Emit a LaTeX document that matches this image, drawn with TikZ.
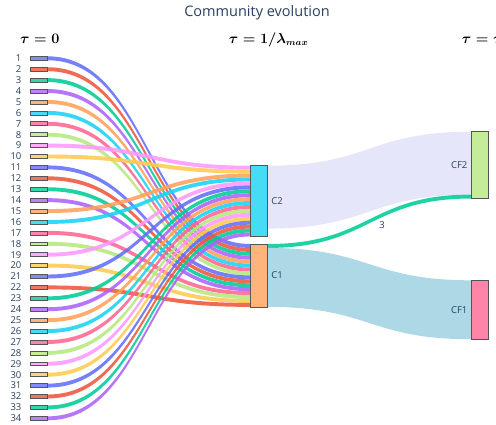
\documentclass[tikz,border=0pt]{standalone}
\usepackage[no-math]{fontspec}
\newfontfamily\osans{Open Sans}
\usetikzlibrary{calc}
\definecolor{pal1}{HTML}{636EFA}
\definecolor{pal2}{HTML}{EF553B}
\definecolor{pal3}{HTML}{00CC96}
\definecolor{pal4}{HTML}{AB63FA}
\definecolor{pal5}{HTML}{FFA15A}
\definecolor{pal6}{HTML}{19D3F3}
\definecolor{pal7}{HTML}{FF6692}
\definecolor{pal8}{HTML}{B6E880}
\definecolor{pal9}{HTML}{FF97FF}
\definecolor{pal10}{HTML}{FECB52}
\definecolor{txt}{HTML}{2A3F5F}
\definecolor{edgec}{HTML}{555555}
\definecolor{lav}{HTML}{E6E6FA}
\definecolor{lblue}{HTML}{ADD8E6}
\pgfdeclarelayer{links}
\pgfsetlayers{links,main}
\newcommand\band[3]{%
  \path ($(#2.east)!0.5!(#3.west)$) coordinate (m);
  \fill[#1] (#2.north east) .. controls (m |- #2.north east) and (m |- #3.north west) .. (#3.north west)
    -- (#3.south west) .. controls (m |- #3.south west) and (m |- #2.south east) .. (#2.south east) -- cycle;}
\begin{document}
\begin{tikzpicture}[x=1pt,y=-1pt,
  box/.style={draw=edgec, line width=0.6pt, inner sep=0pt, outer sep=0pt, minimum width=17.5pt},
  slot/.style={inner sep=0pt, outer sep=0pt, minimum width=0pt, minimum height=#1*3.93pt},
  numlab/.style={font=\osans\fontsize{9.5}{11}\selectfont, text=txt, inner sep=0pt},
  clab/.style={font=\osans\fontsize{9.5}{11}\selectfont, text=txt, inner sep=0pt},
  hdr/.style={font=\fontsize{13.5}{16}\selectfont\boldmath, inner sep=0pt},
  linkc/.style={fill=#1, fill opacity=0.88}]
\useasboundingbox (0,0) rectangle (496,424);
\clip (0,0) rectangle (496,424);
% title and headers
\node[font=\osans\fontsize{14.5}{17}\selectfont, text=txt, anchor=base, inner sep=0pt] (title) at (257,16) {Community evolution};
\node[hdr, anchor=base] (h0) at (39.7,43) {$\tau=0$};
\node[hdr, anchor=base] (h1) at (268.5,43) {$\tau=1/\lambda_{max}$};
\node[hdr, anchor=base west] (h2) at (461.7,43) {$\tau=\tau$};
% left nodes
\foreach \i in {1,...,34}{
  \pgfmathtruncatemacro\ci{mod(\i-1,10)+1}
  \node[box, fill=pal\ci!80, minimum height=3.93pt] (n\i) at (38.85,{58.3+(\i-1)*10.91}) {};
  \node[numlab, anchor=east] (l\i) at ([xshift=-8.5pt]n\i.west) {\i};
}
% target slots
\foreach \s [count=\k from 0] in {9,10,15,16,19,21,23,24,25,26,27,28,29,30,31,32,33,34}
  \node[slot=1] (t\s) at (250.25,{165.7+(\k+0.5)*3.93}) {};
\foreach \s [count=\k from 0] in {1,2,3,4,5,6,7,8,11,12,13,14,17,18,20,22}
  \node[slot=1] (t\s) at (250.25,{244+(\k+0.5)*3.93}) {};
% middle and right nodes
\node[box, fill=pal6!80, minimum height=18*3.93pt] (C2) at (259,201.07) {};
\node[box, fill=pal5!80, minimum height=16*3.93pt] (C1) at (259,275.44) {};
\node[box, fill=pal8!80, minimum height=17*3.93pt] (CF2) at (479.8,165.1) {};
\node[box, fill=pal7!80, minimum height=15*3.93pt] (CF1) at (479.8,309.78) {};
\node[clab, anchor=west] (lC2) at ([xshift=3.5pt]C2.east) {C2};
\node[clab, anchor=west] (lC1) at ([xshift=3.5pt]C1.east) {C1};
\node[clab, anchor=east] (lCF2) at ([xshift=-3.5pt]CF2.west) {CF2};
\node[clab, anchor=east] (lCF1) at ([xshift=-3.5pt]CF1.west) {CF1};
% right link slots
\node[slot=16] (a1) at (267.75,197.14) {};
\node[slot=16] (b1) at (471.05,163.14) {};
\node[slot=1] (a2) at (267.75,245.97) {};
\node[slot=1] (b2) at (471.05,196.55) {};
\node[slot=15] (a3) at (267.75,277.4) {};
\node[slot=15] (b3) at (471.05,309.78) {};
\node[clab] (lk3) at (382,225.5) {3};
% links
\begin{pgfonlayer}{links}
\foreach \i in {1,...,34}{
  \pgfmathtruncatemacro\ci{mod(\i-1,10)+1}
  \band{linkc=pal\ci}{n\i}{t\i}
}
\band{fill=lav}{a1}{b1}
\band{linkc=pal3}{a2}{b2}
\band{fill=lblue}{a3}{b3}
\end{pgfonlayer}
\end{tikzpicture}
\end{document}
